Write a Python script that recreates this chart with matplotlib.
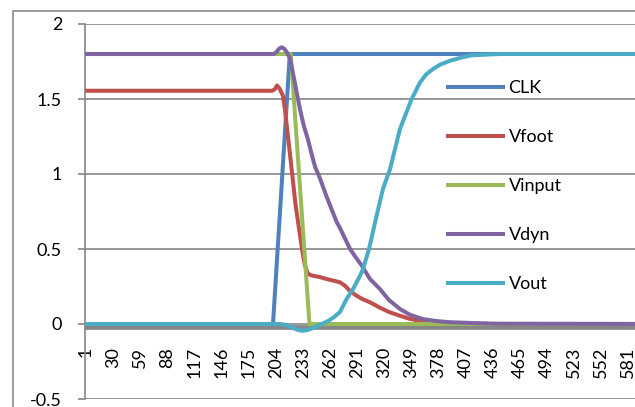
import matplotlib
matplotlib.use("Agg")
import matplotlib.pyplot as plt
from matplotlib.patches import Rectangle

plt.rcParams['font.family'] = ['Lato', 'DejaVu Sans']

# valeurs (abscisse = numéro d'échantillon)
clk_x = [1, 201, 219, 620]
clk_y = [0, 0, 1.8, 1.8]

vfoot_x = [1, 200, 203, 205.3, 208, 211.7, 214, 217, 221, 225, 229.9, 232.5, 235.2, 238,
           240.6, 245, 251, 258.4, 265, 272.6, 278, 283.4, 290, 297, 304.7, 315, 325,
           336.8, 347, 358.2, 370, 390, 410, 620]
vfoot_y = [1.555, 1.555, 1.565, 1.59, 1.57, 1.52, 1.42, 1.25, 1.03, 0.8, 0.59, 0.48, 0.39, 0.34,
           0.327, 0.32, 0.313, 0.30, 0.29, 0.278, 0.255, 0.22, 0.19, 0.165, 0.145, 0.11, 0.08,
           0.055, 0.035, 0.02, 0.01, 0.004, 0, 0]

vinput_x = [1, 220, 240, 620]
vinput_y = [1.8, 1.8, 0, 0]

vdyn_x = [1, 202, 205, 207.5, 210.3, 213, 216, 219.2, 224, 229.9, 234, 238.4, 242, 245.9,
          251.3, 258, 264, 269.1, 272.6, 278, 283.4, 290, 295.9, 304.7, 315.4, 325, 336.8,
          348, 361.4, 375, 390, 411.7, 440, 620]
vdyn_y = [1.8, 1.8, 1.815, 1.835, 1.845, 1.835, 1.81, 1.77, 1.62, 1.43, 1.32, 1.23, 1.14, 1.05,
          0.97, 0.855, 0.76, 0.68, 0.64, 0.57, 0.5, 0.44, 0.39, 0.30, 0.233, 0.16, 0.1,
          0.06, 0.033, 0.02, 0.012, 0.007, 0.002, 0]

vout_x = [1, 208, 212, 216, 220, 225, 229, 233.1, 238, 242.7, 248, 253.1, 260, 266, 272.6,
          279.8, 286.6, 294, 297.3, 303.7, 311, 318.6, 322.6, 326.1, 336.8, 349.3, 358.2,
          365, 372.1, 380, 390.3, 400, 411.7, 425, 443.8, 620]
vout_y = [0, 0, -0.003, -0.01, -0.02, -0.033, -0.042, -0.045, -0.04, -0.03, -0.015, 0, 0.02,
          0.045, 0.08, 0.167, 0.233, 0.32, 0.367, 0.5, 0.7, 0.9, 0.97, 1.03, 1.3, 1.5, 1.61,
          1.665, 1.70, 1.73, 1.755, 1.772, 1.79, 1.795, 1.8, 1.8]

x_ticks = list(range(1, 640, 29))
y_ticks = [-0.5, 0, 0.5, 1, 1.5, 2]
y_labels = ['-0.5', '0', '0.5', '1', '1.5', '2']

series = [
    ("CLK", clk_x, clk_y, '#4F81BD'),
    ("Vfoot", vfoot_x, vfoot_y, '#C0504D'),
    ("Vinput", vinput_x, vinput_y, '#9BBB59'),
    ("Vdyn", vdyn_x, vdyn_y, '#8064A2'),
    ("Vout", vout_x, vout_y, '#4BACC6'),
]

grey = '#868686'
W, H = 635, 407

fig = plt.figure(figsize=(6.35, 4.07), dpi=100)
ax = fig.add_axes([85 / W, 8 / H, 615 / W, 375 / H])

for name, xs, ys, col in series:
    ax.plot(xs, ys, color=col, lw=2.9, label=name, solid_joinstyle='round', zorder=3)

ax.set_xlim(-0.07, 657.7)
ax.set_ylim(-0.5, 2)

# axe horizontal à 0
ax.spines['bottom'].set_position(('data', 0))
ax.spines['bottom'].set_visible(False)
ax.axhline(-0.022, color=grey, lw=3.4, zorder=2)
ax.spines['top'].set_visible(False)
ax.spines['right'].set_visible(False)
ax.spines['left'].set_color(grey)
ax.spines['left'].set_linewidth(1.2)

ax.set_xticks(x_ticks)
ax.set_xticklabels([str(t) for t in x_ticks], rotation=90, fontsize=13)
ax.tick_params(axis='x', length=0, pad=16.5)

ax.set_yticks(y_ticks)
ax.set_yticklabels(y_labels, fontsize=13)
ax.tick_params(axis='y', length=5, width=1.2, color=grey, pad=11.5)

ax.yaxis.grid(True, color=grey, lw=1.2)
ax.set_axisbelow(True)

ax.legend(loc='upper left', bbox_to_anchor=(448 / W, 1 - 80 / H), bbox_transform=fig.transFigure,
          frameon=False, fontsize=13, handlelength=3.05, handletextpad=0.3,
          labelspacing=1.83, borderpad=0, borderaxespad=0)

# cadre du graphique
fig.patches.append(Rectangle((13 / W, -0.1), 1.2, (H - 11) / H + 0.1, transform=fig.transFigure,
                             fill=False, ec='#8a8a8a', lw=1.2))

fig.savefig('out.png', dpi=100)
